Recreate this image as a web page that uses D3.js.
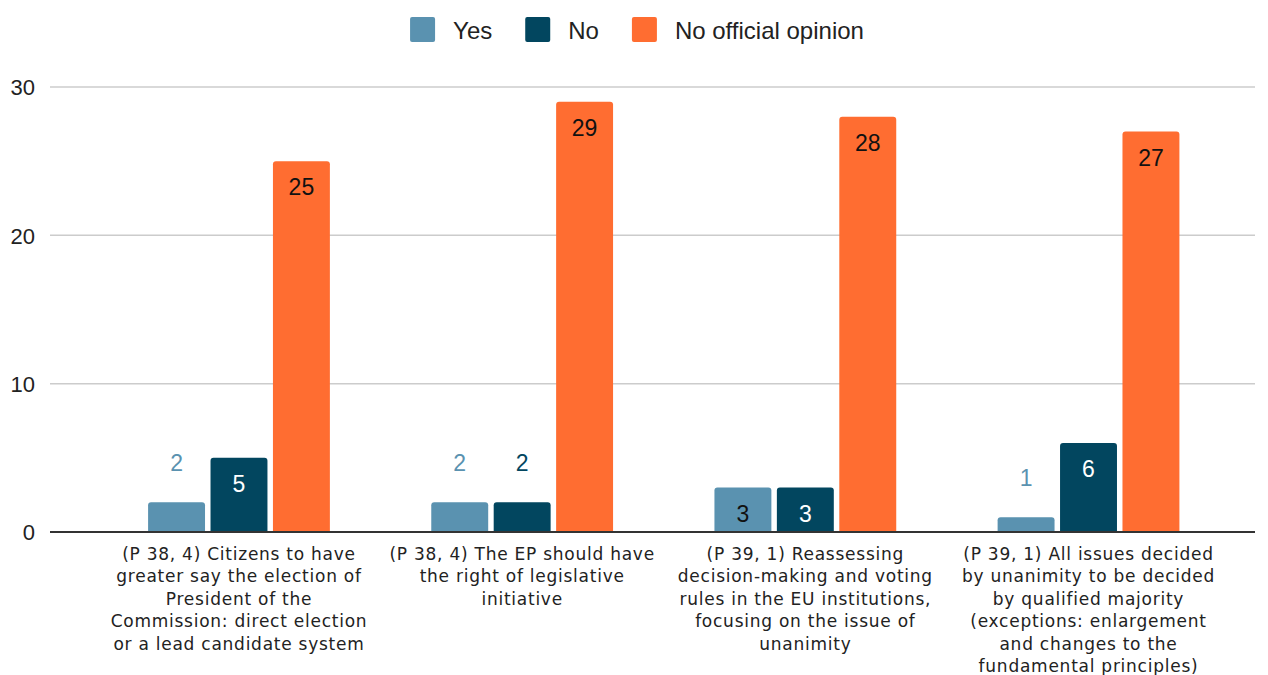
<!DOCTYPE html>
<html>
<head>
<meta charset="utf-8">
<script src="https://cdn.jsdelivr.net/npm/d3@7"></script>
<style>
  html, body { margin: 0; padding: 0; background: #fff; }
  svg { display: block; }
</style>
</head>
<body>
<svg id="chart" width="1268" height="675"></svg>
<script>
// ---- data ----
const categories = [
  "(P 38, 4) Citizens to have greater say the election of President of the Commission: direct election or a lead candidate system",
  "(P 38, 4) The EP should have the right of legislative initiative",
  "(P 39, 1) Reassessing decision-making and voting rules in the EU institutions, focusing on the issue of unanimity",
  "(P 39, 1) All issues decided by unanimity to be decided by qualified majority (exceptions: enlargement and changes to the fundamental principles)"
];
const categoryLines = [
  ["(P 38, 4) Citizens to have", "greater say the election of", "President of the", "Commission: direct election", "or a lead candidate system"],
  ["(P 38, 4) The EP should have", "the right of legislative", "initiative"],
  ["(P 39, 1) Reassessing", "decision-making and voting", "rules in the EU institutions,", "focusing on the issue of", "unanimity"],
  ["(P 39, 1) All issues decided", "by unanimity to be decided", "by qualified majority", "(exceptions: enlargement", "and changes to the", "fundamental principles)"]
];
const seriesNames = ["Yes", "No", "No official opinion"];
const yesValues = [2, 2, 3, 1];
const noValues = [5, 2, 3, 6];
const noOpinionValues = [25, 29, 28, 27];
const yTicks = [0, 10, 20, 30];

const seriesValues = [yesValues, noValues, noOpinionValues];
const colors = ["#5A92B0", "#02465F", "#FF6D31"];
const insideLabelColors = ["#111111", "#ffffff", "#111111"];

// ---- layout ----
const svg = d3.select("#chart");
const plotLeft = 50, plotRight = 1255;
const y = d3.scaleLinear().domain([0, 30]).range([532, 87]);
const x0 = d3.scaleBand().domain(d3.range(categories.length))
  .range([97.4, 1230.1]).paddingInner(0.358).paddingOuter(0.179);
const x1 = d3.scaleBand().domain(d3.range(seriesNames.length))
  .range([0, x0.bandwidth()]).paddingInner(0.088).paddingOuter(0);

// gridlines
svg.append("g").selectAll("line").data(yTicks.filter(t => t !== 0)).join("line")
  .attr("x1", plotLeft).attr("x2", plotRight)
  .attr("y1", d => y(d)).attr("y2", d => y(d))
  .attr("stroke", "#cccccc").attr("stroke-width", 1.5);

// y axis labels
const yAxis = d3.axisLeft(y).tickValues(yTicks).tickSize(0).tickPadding(0);
const gy = svg.append("g").attr("transform", "translate(35,0)").call(yAxis);
gy.select(".domain").remove();
gy.selectAll("text")
  .attr("font-family", "'Liberation Sans', Arial, sans-serif")
  .attr("font-size", 22).attr("fill", "#222").attr("dy", "0.36em").attr("x", 0);

// bars
function topRoundedRect(x, yTop, w, h, r) {
  r = Math.min(r, h, w / 2);
  const yb = yTop + h;
  return `M${x},${yb}V${yTop + r}Q${x},${yTop} ${x + r},${yTop}H${x + w - r}Q${x + w},${yTop} ${x + w},${yTop + r}V${yb}Z`;
}

const barData = [];
categories.forEach((c, ci) => {
  seriesValues.forEach((vals, si) => barData.push({ ci, si, v: vals[ci] }));
});

const bars = svg.append("g");
bars.selectAll("path").data(barData).join("path")
  .attr("d", d => {
    const bx = x0(d.ci) + x1(d.si);
    const yt = y(d.v);
    return topRoundedRect(bx, yt, x1.bandwidth(), y(0) - yt, 3);
  })
  .attr("fill", d => colors[d.si]);

// value labels
svg.append("g").selectAll("text").data(barData).join("text")
  .attr("x", d => x0(d.ci) + x1(d.si) + x1.bandwidth() / 2)
  .attr("y", d => {
    const h = y(0) - y(d.v);
    return h > 40 ? y(d.v) + 34 : y(d.v) - 31;
  })
  .attr("text-anchor", "middle")
  .attr("font-family", "'Liberation Sans', Arial, sans-serif")
  .attr("font-size", 23)
  .attr("fill", d => (y(0) - y(d.v) > 40) ? insideLabelColors[d.si] : colors[d.si])
  .text(d => d.v);

// baseline
svg.append("line").attr("x1", plotLeft).attr("x2", plotRight)
  .attr("y1", y(0)).attr("y2", y(0))
  .attr("stroke", "#333333").attr("stroke-width", 2);

// x category labels
const xl = svg.append("g");
categories.forEach((c, ci) => {
  const t = xl.append("text")
    .attr("x", x0(ci) + x0.bandwidth() / 2)
    .attr("y", 560)
    .attr("text-anchor", "middle")
    .attr("font-family", "'DejaVu Sans', Verdana, sans-serif")
    .attr("font-size", 17)
    .attr("letter-spacing", "0.75px")
    .attr("fill", "#222");
  categoryLines[ci].forEach((line, li) => {
    t.append("tspan").attr("x", x0(ci) + x0.bandwidth() / 2)
      .attr("y", 560 + li * 22.4).text(line);
  });
});

// legend
const legend = svg.append("g");
let cursor = 0;
seriesNames.forEach((name, i) => {
  const g = legend.append("g");
  g.append("rect").attr("x", 0).attr("y", 17).attr("width", 25).attr("height", 25)
    .attr("rx", 2).attr("fill", colors[i]);
  const tx = g.append("text").attr("x", 43).attr("y", 38.5)
    .attr("font-family", "'Liberation Sans', Arial, sans-serif")
    .attr("font-size", 24).attr("fill", "#222").text(name);
  const w = 43 + tx.node().getComputedTextLength();
  g.attr("transform", `translate(${cursor},0)`);
  cursor += w + 33;
});
const total = cursor - 33;
legend.attr("transform", `translate(${637 - total / 2},0)`);
</script>
</body>
</html>
